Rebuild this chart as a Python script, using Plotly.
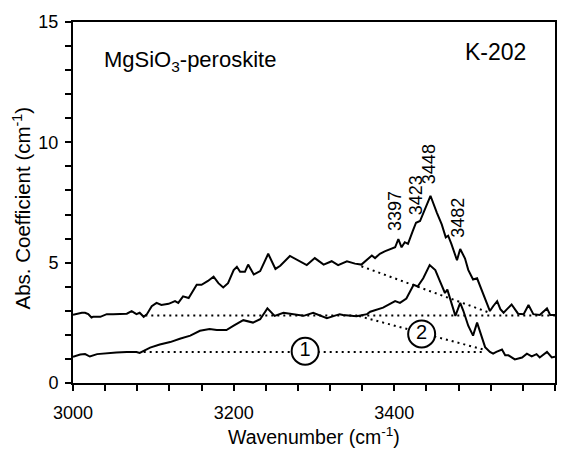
import plotly.graph_objects as go

# Upper spectrum (wavenumber, absorption coefficient)
top_x = [3000, 3011, 3015, 3019, 3023, 3025, 3034, 3042, 3050, 3059,
         3067, 3073, 3079, 3083, 3088, 3092, 3098, 3104, 3110, 3119,
         3127, 3131, 3137, 3144, 3154, 3160, 3164, 3168, 3175, 3181,
         3187, 3193, 3200, 3204, 3208, 3214, 3218, 3225, 3233, 3243,
         3252, 3258, 3270, 3283, 3291, 3301, 3312, 3322, 3330, 3341,
         3351, 3359, 3372, 3376, 3382, 3388, 3395, 3401, 3405, 3409,
         3413, 3417, 3423, 3427, 3432, 3438, 3445, 3453, 3459, 3464,
         3467, 3471, 3478, 3482, 3488, 3492, 3498, 3503, 3509, 3515,
         3519, 3523, 3528, 3532, 3536, 3540, 3546, 3554, 3561, 3567,
         3573, 3581, 3590, 3594, 3600]
top_y = [2.83, 2.92, 2.92, 2.86, 2.72, 2.75, 2.75, 2.86, 2.86, 2.86,
         2.88, 2.99, 2.86, 2.92, 2.75, 2.86, 3.19, 3.33, 3.24, 3.29,
         3.40, 3.33, 3.60, 3.53, 4.08, 4.08, 4.15, 4.24, 4.42, 4.15,
         3.97, 4.15, 4.69, 4.83, 4.62, 4.62, 4.92, 4.51, 4.65, 5.37,
         4.74, 4.87, 5.28, 5.06, 4.90, 5.19, 4.92, 5.06, 4.90, 5.06,
         4.96, 4.92, 5.30, 5.19, 5.37, 5.47, 5.57, 5.64, 5.98, 5.64,
         5.85, 5.78, 6.32, 6.66, 6.73, 7.21, 7.78, 7.07, 6.59, 6.05,
         6.12, 5.78, 5.10, 5.57, 5.17, 4.70, 4.30, 4.35, 3.81, 3.33,
         2.99, 3.19, 3.40, 3.07, 2.92, 3.06, 3.26, 2.88, 2.86, 3.24,
         2.86, 2.83, 3.10, 2.83, 2.83]

# Lower spectrum
low_x = [3000, 3009, 3015, 3021, 3030, 3042, 3054, 3067, 3079, 3083,
         3096, 3108, 3121, 3133, 3146, 3158, 3170, 3179, 3191, 3200,
         3212, 3224, 3233, 3242, 3251, 3262, 3274, 3287, 3299, 3316,
         3332, 3336, 3353, 3366, 3370, 3386, 3401, 3407, 3415, 3424,
         3429, 3436, 3444, 3451, 3457, 3463, 3466, 3471, 3476, 3482,
         3486, 3492, 3498, 3503, 3507, 3513, 3519, 3523, 3527, 3534,
         3538, 3542, 3550, 3559, 3565, 3571, 3577, 3581, 3590, 3596,
         3600]
low_y = [1.09, 1.18, 1.20, 1.10, 1.20, 1.24, 1.27, 1.29, 1.29, 1.25,
         1.47, 1.60, 1.70, 1.84, 1.97, 2.17, 2.24, 2.20, 2.20, 2.38,
         2.61, 2.51, 2.65, 3.10, 2.79, 2.92, 2.86, 2.79, 2.92, 2.69,
         2.86, 2.83, 2.77, 2.86, 2.96, 3.13, 3.40, 3.33, 3.51, 4.08,
         4.01, 4.35, 4.90, 4.69, 4.21, 3.74, 3.88, 3.33, 2.79, 3.33,
         2.99, 2.38, 1.97, 2.51, 2.11, 1.49, 1.29, 1.22, 1.29, 1.39,
         1.15, 1.15, 0.98, 1.06, 1.22, 1.11, 1.20, 1.06, 1.29, 1.06,
         1.09]

# Dotted baselines
base_top_x = [3090, 3600]
base_top_y = [2.80, 2.80]
base_low_x = [3088, 3513]
base_low_y = [1.29, 1.29]
slope_top_x = [3359, 3516]
slope_top_y = [4.85, 2.95]
slope_low_x = [3356, 3512]
slope_low_y = [2.78, 1.38]

# Circled baseline labels
circle_labels = ["1", "2"]
circle_x = [3289, 3434]
circle_y = [1.32, 2.04]

# Peak labels
peak_labels = ["3397", "3423", "3448", "3482"]
peak_x = [3401, 3427, 3444, 3480]
peak_y = [7.15, 7.80, 9.08, 6.85]

FONT = "Liberation Sans, Arial, sans-serif"

fig = go.Figure()
line_style = dict(color="black", width=2)
fig.add_trace(go.Scatter(x=top_x, y=top_y, mode="lines", line=line_style))
fig.add_trace(go.Scatter(x=low_x, y=low_y, mode="lines", line=line_style))

dot_style = dict(color="black", width=2, dash="2px,4px")
for bx, by in [(base_top_x, base_top_y), (base_low_x, base_low_y),
               (slope_top_x, slope_top_y), (slope_low_x, slope_low_y)]:
    fig.add_trace(go.Scatter(x=bx, y=by, mode="lines", line=dot_style))

fig.add_trace(go.Scatter(
    x=circle_x, y=circle_y, mode="markers+text", text=circle_labels,
    textposition="middle center",
    textfont=dict(family=FONT, size=20, color="black"),
    marker=dict(size=27, color="white", line=dict(color="black", width=2)),
))

annotations = []
for lab, px, py in zip(peak_labels, peak_x, peak_y):
    annotations.append(dict(x=px, y=py, xref="x", yref="y", text=lab,
                            textangle=-90, showarrow=False,
                            font=dict(family=FONT, size=18, color="black"),
                            xanchor="center", yanchor="middle"))

annotations.append(dict(x=0.0595, y=0.893, xref="paper", yref="paper",
                        text="MgSiO<sub>3</sub>-peroskite", showarrow=False,
                        xanchor="left", yanchor="middle",
                        font=dict(family=FONT, size=22, color="black")))
annotations.append(dict(x=0.81, y=0.918, xref="paper", yref="paper",
                        text="K-202", showarrow=False,
                        xanchor="left", yanchor="middle",
                        font=dict(family=FONT, size=23, color="black")))
annotations.append(dict(x=0.5, y=0, xref="paper", yref="paper",
                        text="Wavenumber (cm<sup>-1</sup>)", showarrow=False,
                        xanchor="center", yanchor="middle", yshift=-53,
                        font=dict(family=FONT, size=19.5, color="black")))
annotations.append(dict(x=0, y=0.5, xref="paper", yref="paper",
                        text="Abs. Coefficient (cm<sup>-1</sup>)", showarrow=False,
                        textangle=-90, xanchor="center", yanchor="middle",
                        xshift=-52, yshift=-6,
                        font=dict(family=FONT, size=20.5, color="black")))

axis_common = dict(
    showline=True, linewidth=2, linecolor="black", mirror=True,
    showgrid=False, zeroline=False,
    ticks="outside", ticklen=6, tickwidth=2, tickcolor="black",
    tickfont=dict(family=FONT, size=18, color="black"),
)

fig.update_layout(
    width=573, height=450,
    margin=dict(l=73, r=18, t=16, b=67),
    paper_bgcolor="white", plot_bgcolor="white",
    showlegend=False, hovermode=False,
    font=dict(family=FONT, color="black"),
    annotations=annotations,
    xaxis=dict(range=[3000, 3600], tick0=3000, dtick=200,
               minor=dict(tick0=3000, dtick=40, ticks="outside", ticklen=6,
                          tickwidth=2, tickcolor="black", showgrid=False),
               ticklabelstandoff=6, **axis_common),
    yaxis=dict(range=[0, 15], tick0=0, dtick=5,
               minor=dict(tick0=0, dtick=1, ticks="outside", ticklen=6,
                          tickwidth=2, tickcolor="black", showgrid=False),
               ticklabelstandoff=3, **axis_common),
)

fig.write_html("out.html")
